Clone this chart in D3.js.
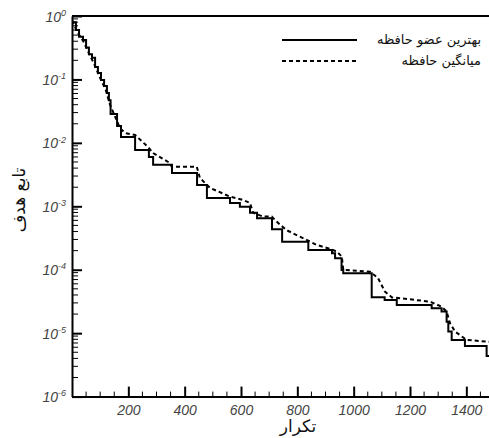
<!DOCTYPE html>
<html>
<head>
<meta charset="utf-8">
<script src="https://cdn.jsdelivr.net/npm/d3@7"></script>
<style>
  body { margin: 0; background: #fff; }
</style>
</head>
<body>
<div id="chart"></div>
<script>
// best member of memory (solid, stepped)
var bestIter = [0, 14, 25, 39, 50, 60, 71, 82, 92, 103, 114, 124, 131, 137, 160, 174, 224, 273, 288, 355,
  444, 479, 561, 596, 632, 657, 710, 746, 839, 923, 934, 957, 963, 1064, 1110, 1153, 1277, 1312, 1330,
  1336, 1348, 1395, 1472, 1500];
var bestVal = [0.80, 0.60, 0.47, 0.42, 0.32, 0.25, 0.22, 0.157, 0.126, 0.098, 0.079, 0.061, 0.047, 0.0285,
  0.0185, 0.0124, 0.0077, 0.0060, 0.0045, 0.00336, 0.00217, 0.00135, 0.00113, 0.00098, 0.00079, 0.00065,
  0.000435, 0.000277, 0.000205, 0.000182, 0.000152, 0.0000993, 0.0000881, 0.0000369, 0.0000334, 0.0000279,
  0.0000247, 0.0000219, 0.0000152, 0.0000106, 0.00000783, 0.0000063, 0.00000438, 0.00000438];

// memory mean (dashed)
var meanIter = [0, 20, 40, 60, 80, 100, 120, 135, 170, 188, 224, 270, 288, 348, 354, 443, 454, 490, 561,
  607, 632, 643, 678, 709, 731, 762, 833, 869, 916, 940, 958, 963, 1058, 1086, 1111, 1136, 1164, 1271,
  1312, 1330, 1342, 1360, 1401, 1500];
var meanVal = [0.85, 0.55, 0.40, 0.26, 0.17, 0.105, 0.068, 0.040, 0.0172, 0.0143, 0.0133, 0.0086, 0.0069,
  0.0048, 0.0042, 0.0042, 0.0028, 0.00195, 0.00142, 0.00126, 0.00113, 0.00079, 0.00069, 0.00069, 0.00055,
  0.00042, 0.000295, 0.000246, 0.000213, 0.000193, 0.000161, 0.0000993, 0.0000933, 0.0000743, 0.0000452,
  0.0000366, 0.0000356, 0.0000314, 0.0000262, 0.0000219, 0.0000144, 0.0000106, 0.00000783, 0.0000072];

var xTicks = [200, 400, 600, 800, 1000, 1200, 1400];
var yExponents = [0, -1, -2, -3, -4, -5, -6];
var legendLabels = ["بهترین عضو حافظه", "میانگین حافظه"];
var xTitle = "تکرار";
var yTitle = "تابع هدف";

var W = 489, H = 438;
var margin = { top: 16, left: 72 },
  width = 422.5,
  height = 380.6;

var svg = d3.select("#chart")
  .append("svg")
  .attr("width", W)
  .attr("height", H)
  .style("background", "#fff");

var g = svg.append("g")
  .attr("transform", "translate(" + margin.left + "," + margin.top + ")");

var x = d3.scaleLinear().domain([0, 1500]).range([0, width]);
var y = d3.scaleLog().domain([1e-6, 1]).range([height, 0]);

g.append("clipPath").attr("id", "plotclip")
  .append("rect").attr("width", width).attr("height", height);

// minor ticks
var yMinor = [];
yExponents.slice(1).forEach(function(e) {
  for (var k = 2; k <= 9; k++) yMinor.push(k * Math.pow(10, e));
});
g.selectAll(".yminor").data(yMinor).enter().append("line")
  .attr("x1", 0).attr("x2", 6)
  .attr("y1", d => y(d)).attr("y2", d => y(d))
  .attr("stroke", "#000").attr("stroke-width", 1);

var xMinor = d3.range(50, 1500, 50).filter(d => d % 200 !== 0);
g.selectAll(".xminor").data(xMinor).enter().append("line")
  .attr("x1", d => x(d)).attr("x2", d => x(d))
  .attr("y1", height).attr("y2", height - 5)
  .attr("stroke", "#000").attr("stroke-width", 1);

// axes
var yAxis = g.append("g")
  .call(d3.axisLeft(y)
    .tickValues(yExponents.map(e => Math.pow(10, e)))
    .tickSizeInner(-10).tickSizeOuter(0).tickPadding(6)
    .tickFormat(""));
yAxis.selectAll(".tick line").attr("stroke-width", 2);

yAxis.selectAll(".tick text").each(function(d) {
  var t = d3.select(this);
  var e = Math.round(Math.log10(d));
  t.text(null)
    .attr("font-family", "Liberation Sans, Arial, sans-serif")
    .attr("font-style", "italic")
    .attr("font-size", 14)
    .attr("fill", "#444")
    .attr("dy", "0.36em");
  t.append("tspan").text("10");
  t.append("tspan").attr("font-size", 9).attr("dy", "-0.65em").text(e);
});

var xAxis = g.append("g")
  .attr("transform", "translate(0," + height + ")")
  .call(d3.axisBottom(x)
    .tickValues(xTicks)
    .tickFormat(d3.format("d"))
    .tickSizeInner(-10).tickSizeOuter(0).tickPadding(8));
xAxis.selectAll(".tick line").attr("stroke-width", 2);
xAxis.selectAll(".tick text")
  .attr("font-family", "Liberation Sans, Arial, sans-serif")
  .attr("font-style", "italic")
  .attr("font-size", 14)
  .attr("fill", "#444");

g.selectAll(".domain").attr("stroke-width", 2);

// frame top / right
g.append("line").attr("x1", 0).attr("x2", width).attr("y1", 0).attr("y2", 0)
  .attr("stroke", "#000").attr("stroke-width", 2);
g.append("line").attr("x1", width).attr("x2", width).attr("y1", 0).attr("y2", height)
  .attr("stroke", "#000").attr("stroke-width", 2);

// curves
var bestData = bestIter.map((d, i) => [d, bestVal[i]]);
var meanData = meanIter.map((d, i) => [d, meanVal[i]]);

var stepLine = d3.line().x(d => x(d[0])).y(d => y(d[1])).curve(d3.curveStepAfter);
var meanLine = d3.line().x(d => x(d[0])).y(d => y(d[1]));

var curves = g.append("g").attr("clip-path", "url(#plotclip)");
curves.append("path").datum(meanData)
  .attr("d", meanLine)
  .attr("fill", "none").attr("stroke", "#000")
  .attr("stroke-width", 2).attr("stroke-dasharray", "4,3");
curves.append("path").datum(bestData)
  .attr("d", stepLine)
  .attr("fill", "none").attr("stroke", "#000")
  .attr("stroke-width", 2);

// legend
var legend = svg.append("g");
legendLabels.forEach(function(lab, i) {
  var ly = 40 + i * 21;
  legend.append("line")
    .attr("x1", 282).attr("x2", 357).attr("y1", ly).attr("y2", ly)
    .attr("stroke", "#000").attr("stroke-width", 2)
    .attr("stroke-dasharray", i === 0 ? null : "4,3");
  legend.append("text")
    .attr("x", 481).attr("y", ly + 4)
    .attr("text-anchor", "end")
    .attr("font-family", "DejaVu Sans, sans-serif")
    .attr("font-size", 13)
    .attr("fill", "#111")
    .text(lab);
});

// axis titles
svg.append("text")
  .attr("x", 298).attr("y", 432)
  .attr("text-anchor", "middle")
  .attr("font-family", "DejaVu Sans, sans-serif")
  .attr("font-size", 17)
  .attr("fill", "#111")
  .text(xTitle);

svg.append("text")
  .attr("transform", "translate(25,200) rotate(-90)")
  .attr("text-anchor", "middle")
  .attr("font-family", "DejaVu Sans, sans-serif")
  .attr("font-size", 17)
  .attr("fill", "#111")
  .text(yTitle);
</script>
</body>
</html>
